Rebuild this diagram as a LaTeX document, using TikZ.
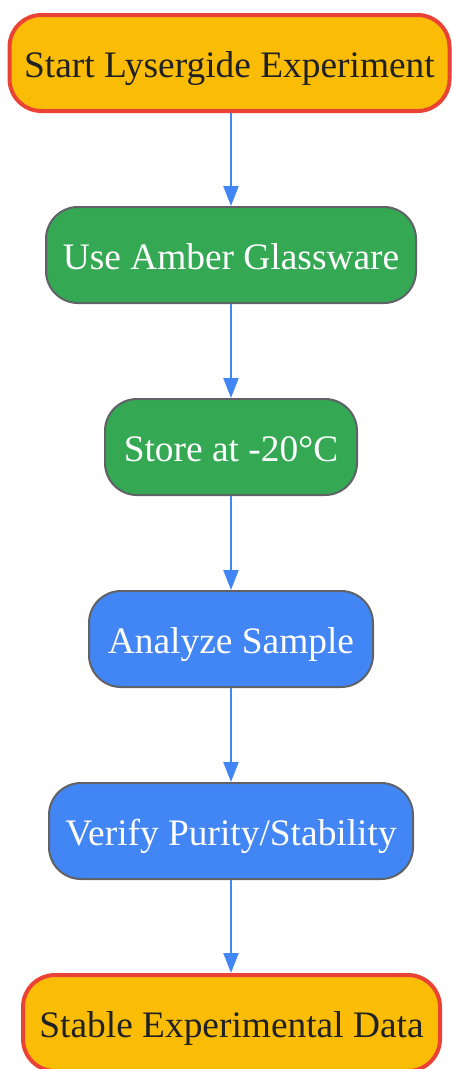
\documentclass[tikz,border=0pt]{standalone}
\usepackage{fontspec}
\setmainfont{Liberation Serif}
\usetikzlibrary{arrows.meta}
\definecolor{gyellow}{HTML}{FBBC05}
\definecolor{gred}{HTML}{EA4335}
\definecolor{ggreen}{HTML}{34A853}
\definecolor{gblue}{HTML}{4285F4}
\definecolor{ggray}{HTML}{5F6368}
\definecolor{gtext}{HTML}{202124}
\tikzset{
  box/.style={rounded corners=32pt, minimum height=96pt, inner sep=0pt, align=center,
    text height=29pt, text depth=0pt,
    font=\fontsize{37.4}{44}\selectfont},
  terminal/.style={box, fill=gyellow, draw=gred, line width=4pt, text=gtext},
  greenbox/.style={box, fill=ggreen, draw=ggray, line width=2pt, text=white},
  bluebox/.style={box, fill=gblue, draw=ggray, line width=2pt, text=white},
  flow/.style={draw=gblue, line width=2.2pt, -{Triangle[length=20pt,width=15pt]}}
}
\begin{document}
\begin{tikzpicture}[x=1pt,y=-1pt]
\useasboundingbox (0,0) rectangle (451,1069);
\node[terminal, minimum width=440pt] (start) at (229.5,63) {Start Lysergide Experiment};
\node[greenbox, minimum width=370pt] (amber) at (231,255) {Use Amber Glassware};
\node[greenbox, minimum width=252pt] (store) at (231,447) {Store at -20°C};
\node[bluebox, minimum width=284pt] (analyze) at (231,639) {Analyze Sample};
\node[bluebox, minimum width=364pt] (verify) at (231,831) {Verify Purity/Stability};
\node[terminal, minimum width=417pt] (stable) at (231.5,1023) {Stable Experimental Data};
\draw[flow] (start.south -| amber.north) -- (amber.north);
\draw[flow] (amber) -- (store);
\draw[flow] (store) -- (analyze);
\draw[flow] (analyze) -- (verify);
\draw[flow] (verify.south) -- (stable.north -| verify.south);
\end{tikzpicture}
\end{document}
